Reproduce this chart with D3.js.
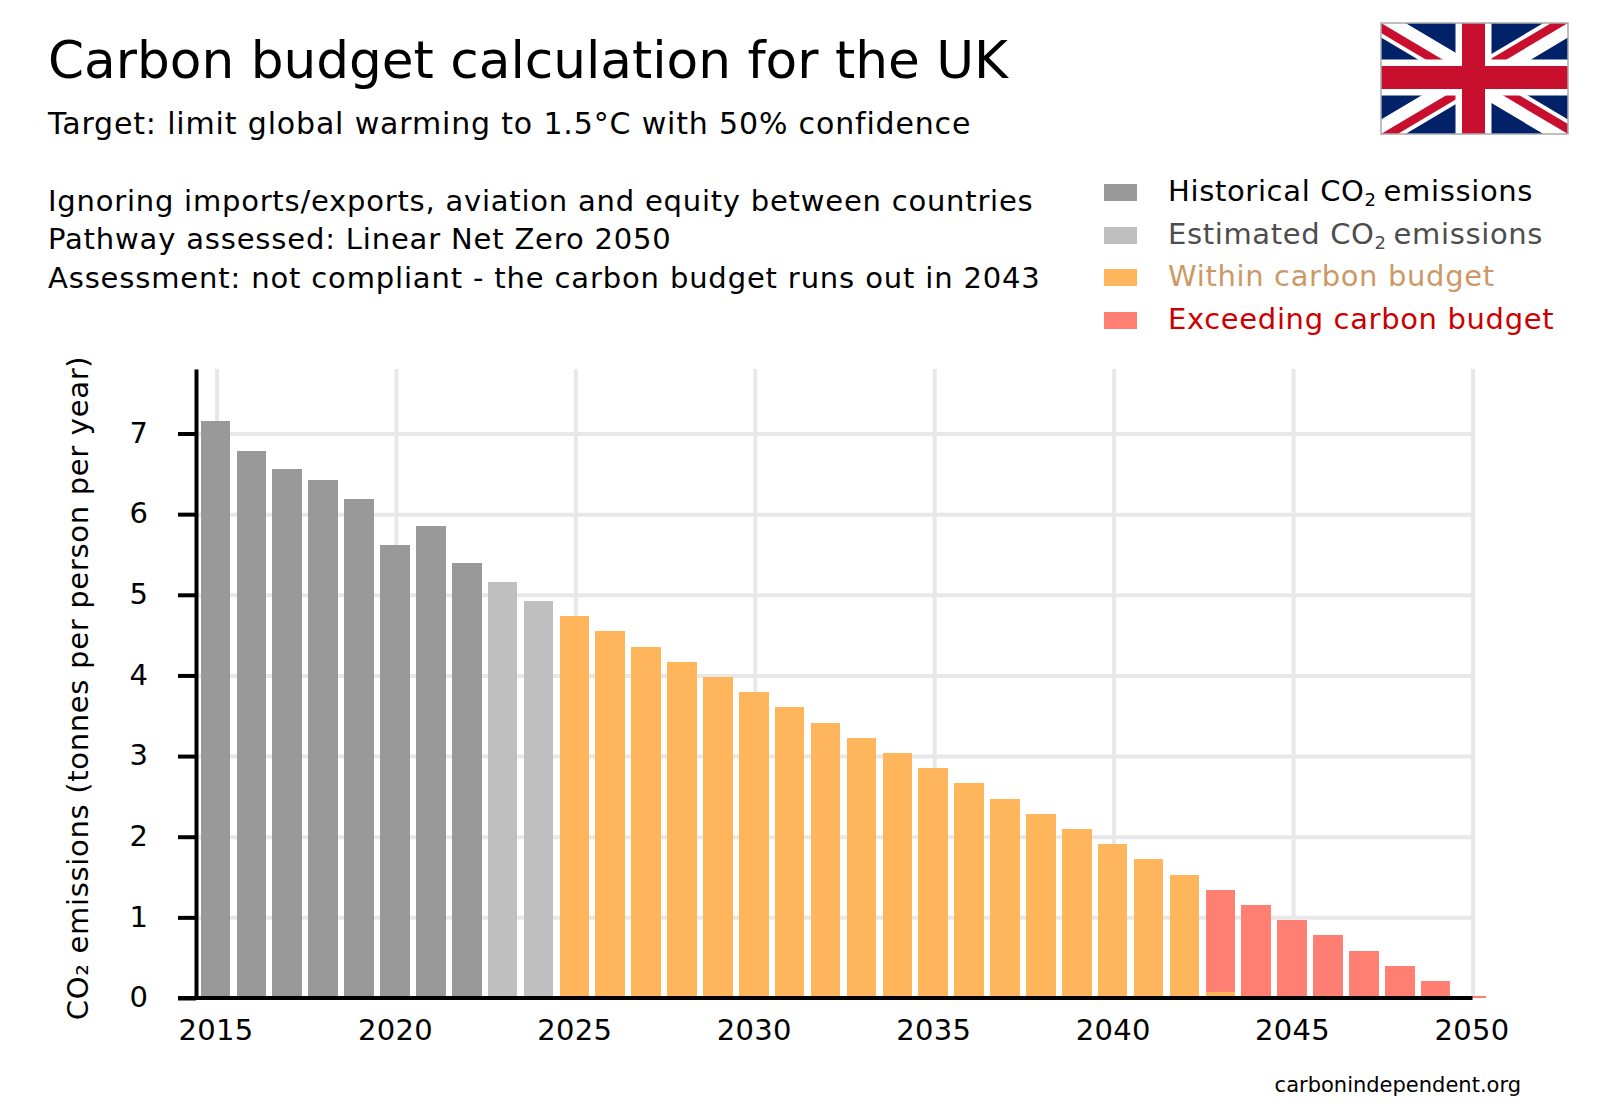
<!DOCTYPE html>
<html>
<head>
<meta charset="utf-8">
<script src="https://cdn.jsdelivr.net/npm/d3@7"></script>
<style>
body { margin: 0; background: #fff; }
text { font-family: "DejaVu Sans", sans-serif; }
</style>
</head>
<body>
<div id="chart"></div>
<script>
var years = d3.range(2015, 2051);
var historical = [7.15, 6.78, 6.56, 6.42, 6.19, 5.62, 5.85, 5.39];
var estimated = [5.16, 4.92];
var within = [4.74, 4.55, 4.35, 4.17, 3.98, 3.79, 3.61, 3.41, 3.23, 3.04, 2.85, 2.66, 2.47, 2.28, 2.09, 1.91, 1.72, 1.53, 0.08];
var exceeding = [1.26, 1.15, 0.97, 0.78, 0.58, 0.40, 0.21, 0.03];
var xTicks = [2015, 2020, 2025, 2030, 2035, 2040, 2045, 2050];
var yTicks = [0, 1, 2, 3, 4, 5, 6, 7];
var seriesKeys = ['historical', 'estimated', 'within', 'exceeding'];
var seriesColors = { historical: '#999999', estimated: '#bfbfbf', within: '#ffb55b', exceeding: '#ff8072' };

// each series starts where the previous one stops, 2043 has both budget parts
var rows = years.map(function(y, i) {
	return {
		year: y,
		historical: historical[i] || 0,
		estimated: estimated[i - 8] || 0,
		within: within[i - 10] || 0,
		exceeding: exceeding[i - 28] || 0
	};
});

var svg = d3.select('#chart').append('svg').attr('width', 1600).attr('height', 1120);

var x = d3.scaleLinear().domain([2015, 2050]).range([216.5, 1472.5]);
var y = d3.scaleLinear().domain([0, 7.8]).range([998, 369]);

// grid
svg.append('g').attr('transform', 'translate(0,998)')
	.call(d3.axisBottom(x).tickValues(xTicks).tickSize(-629).tickFormat(''))
	.call(function(g) { g.select('.domain').remove(); })
	.selectAll('line').attr('stroke', '#e8e8e8').attr('stroke-width', 4);
svg.append('g').attr('transform', 'translate(196,0)')
	.call(d3.axisRight(y).tickValues(yTicks.slice(1)).tickSize(1277).tickFormat(''))
	.call(function(g) { g.select('.domain').remove(); })
	.selectAll('line').attr('stroke', '#e8e8e8').attr('stroke-width', 4);

// bars
var stack = d3.stack().keys(seriesKeys)(rows);
var barWidth = 29.6;
svg.append('g').selectAll('g').data(stack).enter().append('g')
	.attr('fill', function(d) { return seriesColors[d.key]; })
	.selectAll('rect').data(function(d) { return d.filter(function(v) { return v[1] > v[0]; }); })
	.enter().append('rect')
	.attr('shape-rendering', 'crispEdges')
	.attr('x', function(d) { return x(d.data.year) - 15.8; })
	.attr('width', barWidth)
	.attr('y', function(d) { return y(d[1]); })
	.attr('height', function(d) { return y(d[0]) - y(d[1]); });

// axes
var yAxis = svg.append('g').attr('transform', 'translate(196,0)')
	.call(d3.axisLeft(y).tickValues(yTicks).tickSizeInner(18).tickSizeOuter(0).tickPadding(30));
yAxis.select('.domain').attr('stroke', '#000').attr('stroke-width', 4);
yAxis.selectAll('line').attr('stroke', '#000').attr('stroke-width', 4);
yAxis.selectAll('text').attr('font-size', 29).attr('font-family', '"DejaVu Sans"').attr('fill', '#000').attr('dy', '0.3em');

var xAxis = svg.append('g').attr('transform', 'translate(0,998)')
	.call(d3.axisBottom(x).tickValues(xTicks).tickFormat(d3.format('d')).tickSize(0).tickPadding(21));
xAxis.select('.domain').attr('stroke', '#000').attr('stroke-width', 4)
	.attr('d', 'M' + 178 + ',0H' + x(2050));
xAxis.selectAll('text').attr('font-size', 29).attr('font-family', '"DejaVu Sans"').attr('fill', '#000')
	.attr('letter-spacing', 0.3).attr('dx', -1);

svg.append('text').attr('transform', 'translate(88,688) rotate(-90)')
	.attr('text-anchor', 'middle').attr('font-size', 29).attr('letter-spacing', 0.69)
	.text('CO\u2082 emissions (tonnes per person per year)');

// heading
svg.append('text').attr('x', 48).attr('y', 78).attr('font-size', 51.7).text('Carbon budget calculation for the UK');
var lines = [
	['Target: limit global warming to 1.5\u00b0C with 50% confidence', 134, 30, 0.84],
	['Ignoring imports/exports, aviation and equity between countries', 211, 29, 0.78],
	['Pathway assessed: Linear Net Zero 2050', 249, 29, 0.83],
	['Assessment: not compliant - the carbon budget runs out in 2043', 288, 29, 0.85]
];
svg.selectAll('text.info').data(lines).enter().append('text').attr('class', 'info')
	.attr('x', 48).attr('y', function(d) { return d[1]; })
	.attr('font-size', function(d) { return d[2]; }).attr('letter-spacing', function(d) { return d[3]; })
	.text(function(d) { return d[0]; });

// legend
var legend = [
	{ key: 'historical', before: 'Historical CO', after: ' emissions', color: '#000000', top: 184 },
	{ key: 'estimated', before: 'Estimated CO', after: ' emissions', color: '#4d4d4d', top: 227 },
	{ key: 'within', before: 'Within carbon budget', color: '#cc9966', top: 269 },
	{ key: 'exceeding', before: 'Exceeding carbon budget', color: '#cc0000', top: 312 }
];
var lg = svg.selectAll('g.legend').data(legend).enter().append('g').attr('class', 'legend');
lg.append('rect').attr('x', 1104).attr('width', 33).attr('height', 17)
	.attr('y', function(d) { return d.top; })
	.attr('fill', function(d) { return seriesColors[d.key]; });
var lt = lg.append('text').attr('x', 1168).attr('y', function(d) { return d.top + 17; })
	.attr('font-size', 29).attr('letter-spacing', 0.65).attr('fill', function(d) { return d.color; });
lt.append('tspan').text(function(d) { return d.before; });
lt.filter(function(d) { return d.after; }).append('tspan').attr('font-size', 18).attr('dy', 5).text('2');
lt.filter(function(d) { return d.after; }).append('tspan').attr('dy', -5).attr('dx', -3).text(function(d) { return d.after; });

svg.append('text').attr('x', 1521).attr('y', 1092).attr('text-anchor', 'end').attr('font-size', 21).text('carbonindependent.org');

// flag
var fw = 187, fh = 111;
var flag = svg.append('g').attr('transform', 'translate(1381,23)');
var defs = svg.append('defs');
defs.append('clipPath').attr('id', 'flagclip').append('rect').attr('width', fw).attr('height', fh);
defs.append('clipPath').attr('id', 'flagcounter').append('path')
	.attr('d', 'M' + fw / 2 + ',' + fh / 2 + 'H' + fw + 'V' + fh + 'Z V' + fh + 'H0Z H0V0Z V0H' + fw + 'Z');
var fg = flag.append('g').attr('clip-path', 'url(#flagclip)');
fg.append('rect').attr('width', fw).attr('height', fh).attr('fill', '#012169');
var diag = 'M0,0L' + fw + ',' + fh + 'M' + fw + ',0L0,' + fh;
var cross = 'M' + (fw / 2 - 1) + ',0V' + fh + 'M0,' + (fh / 2 - 1) + 'H' + fw;
fg.append('path').attr('d', diag).attr('stroke', '#fff').attr('stroke-width', 25);
fg.append('path').attr('d', diag).attr('stroke', '#c8102e').attr('stroke-width', 17).attr('clip-path', 'url(#flagcounter)');
fg.append('path').attr('d', cross).attr('stroke', '#fff').attr('stroke-width', 36);
fg.append('path').attr('d', cross).attr('stroke', '#c8102e').attr('stroke-width', 23);
flag.append('rect').attr('width', fw).attr('height', fh).attr('fill', 'none').attr('stroke', '#aaa').attr('stroke-width', 1.5);
</script>
</body>
</html>
